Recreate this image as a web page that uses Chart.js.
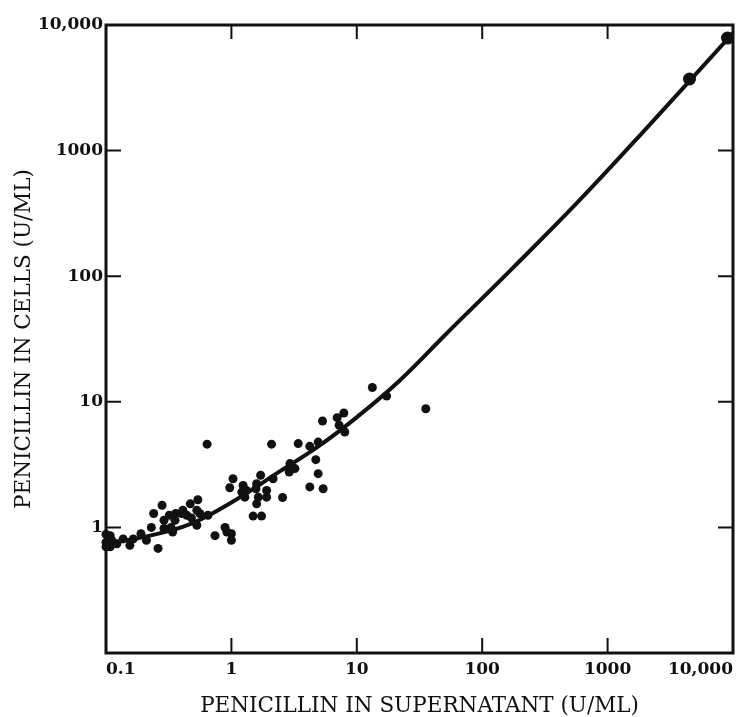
<!DOCTYPE html>
<html>
<head>
<meta charset="utf-8">
<script src="https://cdn.jsdelivr.net/npm/chart.js"></script>
<style>
  html, body { margin: 0; padding: 0; background: #fff; }
  canvas { display: block; }
</style>
</head>
<body>
<canvas id="penChart" width="742" height="717"></canvas>
<script>
// penicillin in supernatant (x) vs penicillin in cells (y), U/ML
const pointX = [0.1, 0.1, 0.1, 0.108, 0.108, 0.111, 0.122, 0.137, 0.155, 0.165, 0.19, 0.21,
  0.23, 0.24, 0.26, 0.28, 0.29, 0.29, 0.32, 0.33, 0.34, 0.355, 0.36, 0.40, 0.41, 0.44, 0.47,
  0.48, 0.53, 0.53, 0.54, 0.56, 0.64, 0.65, 0.74, 0.89, 0.92, 1.0, 1.0, 1.03, 0.97, 1.24,
  1.21, 1.28, 1.32, 1.57, 1.59, 1.64, 1.59, 1.49, 1.74, 1.71, 1.91, 1.91, 2.09, 2.15, 2.56,
  2.93, 3.21, 2.89, 3.41, 4.22, 4.71, 4.92, 4.22, 5.39, 4.92, 5.33, 6.97, 7.88, 7.23, 8.02,
  13.3, 17.3, 35.5];
const pointY = [0.88, 0.76, 0.70, 0.86, 0.70, 0.79, 0.74, 0.81, 0.72, 0.81, 0.89, 0.79,
  1.0, 1.29, 0.68, 1.5, 1.14, 0.98, 1.25, 1.0, 0.92, 1.14, 1.29, 1.29, 1.37, 1.25, 1.54,
  1.19, 1.04, 1.37, 1.66, 1.29, 4.6, 1.25, 0.86, 1.0, 0.92, 0.79, 0.89, 2.44, 2.07, 2.16,
  1.91, 1.74, 1.97, 2.03, 2.23, 1.74, 1.54, 1.23, 1.23, 2.6, 1.97, 1.74, 4.6, 2.44, 1.73,
  3.22, 2.94, 2.76, 4.65, 4.42, 3.46, 2.68, 2.1, 2.03, 4.78, 7.03, 7.48, 8.14, 6.5, 5.75,
  13.0, 11.1, 8.8];

// the two large points at high concentration
const bigX = [4500, 9040];
const bigY = [3715, 7870];

// fitted curve
const curveX = [0.1, 0.224, 0.467, 1.0, 2.43, 5.07, 10.2, 22.0, 52, 175, 598, 2047, 10000];
const curveY = [0.74, 0.86, 1.06, 1.58, 2.79, 4.5, 7.66, 14.8, 35, 116, 403, 1511, 8630];

const xTicks = [0.1, 1, 10, 100, 1000, 10000];
const xTickLabels = ["0.1", "1", "10", "100", "1000", "10,000"];
const yTicks = [1, 10, 100, 1000, 10000];
const yTickLabels = ["1", "10", "100", "1000", "10,000"];
const xMarks = [1, 10, 100, 1000];
const yMarks = [1, 10, 100, 1000];

const ink = "#111";
const tickFont = { family: "'DejaVu Serif', serif", size: 17, weight: "bold" };
const titleFont = { family: "'DejaVu Serif', serif", size: 21.5, lineHeight: 1 };

const toXY = (xs, ys) => xs.map((x, i) => ({ x: x, y: ys[i] }));

// box round the plot, with the short ticks pointing inwards on all four sides
const frame = {
  id: "frame",
  afterDatasetsDraw(chart) {
    const { ctx, chartArea: a, scales: { x, y } } = chart;
    ctx.save();
    ctx.strokeStyle = ink;
    ctx.lineWidth = 3;
    ctx.strokeRect(a.left, a.top, a.right - a.left, a.bottom - a.top);
    ctx.lineWidth = 2;
    ctx.beginPath();
    xMarks.forEach(v => {
      const px = x.getPixelForValue(v);
      ctx.moveTo(px, a.bottom); ctx.lineTo(px, a.bottom - 15);
      ctx.moveTo(px, a.top); ctx.lineTo(px, a.top + 14);
    });
    yMarks.forEach(v => {
      const py = y.getPixelForValue(v);
      ctx.moveTo(a.left, py); ctx.lineTo(a.left + 15, py);
      ctx.moveTo(a.right, py); ctx.lineTo(a.right - 15, py);
    });
    ctx.stroke();
    ctx.restore();
  }
};

new Chart(document.getElementById("penChart"), {
  type: "scatter",
  data: {
    datasets: [{
      data: toXY(curveX, curveY),
      showLine: true,
      borderColor: ink,
      borderWidth: 4,
      pointRadius: 0,
      tension: 0.4
    }, {
      data: toXY(pointX, pointY),
      backgroundColor: ink,
      borderWidth: 0,
      pointRadius: 4.5,
      clip: false
    }, {
      data: toXY(bigX, bigY),
      backgroundColor: ink,
      borderWidth: 0,
      pointRadius: 6.5,
      clip: false
    }]
  },
  options: {
    responsive: false,
    animation: false,
    layout: { padding: { top: 25, right: 9, left: 0, bottom: 0 } },
    plugins: { legend: { display: false }, tooltip: { enabled: false } },
    scales: {
      x: {
        type: "logarithmic",
        min: 0.1,
        max: 10000,
        grid: { display: false, drawTicks: false },
        border: { display: false },
        afterBuildTicks: s => { s.ticks = xTicks.map(v => ({ value: v })); },
        afterFit: s => { s.height = 64; },
        ticks: {
          autoSkip: false,
          maxRotation: 0,
          align: "inner",
          padding: 6,
          color: ink,
          font: tickFont,
          callback: v => xTickLabels[xTicks.indexOf(v)] ?? ""
        },
        title: {
          display: true,
          text: "PENICILLIN IN SUPERNATANT (U/ML)",
          color: ink,
          font: titleFont,
          padding: { top: 0, bottom: 0 }
        }
      },
      y: {
        type: "logarithmic",
        min: 0.1,
        max: 10000,
        grid: { display: false, drawTicks: false },
        border: { display: false },
        afterBuildTicks: s => { s.ticks = yTicks.map(v => ({ value: v })); },
        afterFit: s => { s.width = 106; },
        ticks: {
          autoSkip: false,
          padding: 3,
          color: ink,
          font: tickFont,
          callback: v => yTickLabels[yTicks.indexOf(v)] ?? ""
        },
        title: {
          display: true,
          text: "PENICILLIN IN CELLS (U/ML)",
          color: ink,
          font: titleFont,
          padding: { top: 14, bottom: 0 }
        }
      }
    }
  },
  plugins: [frame]
});
</script>
</body>
</html>
